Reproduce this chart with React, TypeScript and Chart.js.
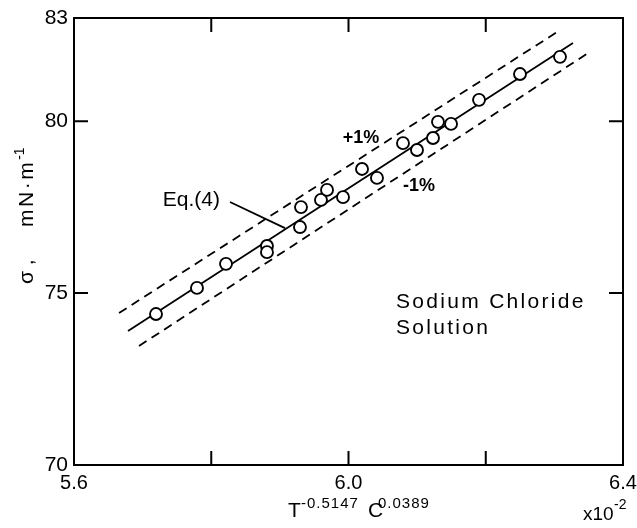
import React, { useEffect, useRef } from 'react';
import { Chart, registerables } from 'chart.js';

Chart.register(...registerables);

// measured points: x in units of 1e-2, y in mN/m
const pointX = [5.7195, 5.7792, 5.8215, 5.8812, 5.8812, 5.9293, 5.9308, 5.9599, 5.9687, 5.9920, 6.0197, 6.0415, 6.0794, 6.0998, 6.1231, 6.1304, 6.1494, 6.1902, 6.2499, 6.3082];
const pointY = [74.39, 75.15, 75.85, 76.37, 76.19, 76.92, 77.50, 77.71, 78.00, 77.79, 78.61, 78.35, 79.36, 79.16, 79.51, 79.98, 79.92, 80.62, 81.37, 81.87];

// Eq.(4) line and +/-1% bands (end points)
const eqX = [5.6787, 6.3271];
const eqY = [73.90, 82.27];
const upperX = [5.6656, 6.3038];
const upperY = [74.42, 82.59];
const lowerX = [5.6947, 6.349];
const lowerY = [73.46, 81.98];

// axes
const xMin = 5.6, xMax = 6.4;
const yMin = 70, yMax = 83;
const xTickLabels = [5.6, 6.0, 6.4];
const xTickMarks = [5.8, 6.0, 6.2];
const yTickLabels = [70, 75, 80, 83];
const yTickMarks = [75, 80];

// annotation anchors (data units)
const eqLabel = { text: 'Eq.(4)', x: 5.8127, y: 77.71 };
const eqLeaderX = [5.8273, 5.9075];
const eqLeaderY = [77.65, 76.89];
const plusLabel = { text: '+1%', x: 6.0182, y: 79.51 };
const minusLabel = { text: '-1%', x: 6.1027, y: 78.11 };
const noteLines = ['Sodium Chloride', 'Solution'];
const noteX = 6.0692;
const noteY = [74.74, 73.98];

const FONT = '"Liberation Sans", Arial, sans-serif';

const toPts = (xs: number[], ys: number[]) => xs.map((x, i) => ({ x, y: ys[i] }));

const annotPlugin = {
  id: 'annot',
  afterDraw(chart: any) {
    const { ctx, chartArea: a, scales } = chart;
    const xs = scales.x;
    const ys = scales.y;
    const px = (v: number) => xs.getPixelForValue(v);
    const py = (v: number) => ys.getPixelForValue(v);
    ctx.save();
    ctx.strokeStyle = '#000';
    ctx.fillStyle = '#000';
    ctx.lineWidth = 2;
    ctx.setLineDash([]);
    ctx.strokeRect(a.left, a.top, a.right - a.left, a.bottom - a.top);
    const TL = 14;
    ctx.beginPath();
    xTickMarks.forEach((v) => {
      const p = px(v);
      ctx.moveTo(p, a.bottom); ctx.lineTo(p, a.bottom - TL);
      ctx.moveTo(p, a.top); ctx.lineTo(p, a.top + TL);
    });
    yTickMarks.forEach((v) => {
      const p = py(v);
      ctx.moveTo(a.left, p); ctx.lineTo(a.left + TL, p);
      ctx.moveTo(a.right, p); ctx.lineTo(a.right - TL, p);
    });
    ctx.stroke();

    // leader line
    ctx.lineWidth = 1.8;
    ctx.beginPath();
    ctx.moveTo(px(eqLeaderX[0]), py(eqLeaderY[0]));
    ctx.lineTo(px(eqLeaderX[1]), py(eqLeaderY[1]));
    ctx.stroke();

    // labels
    ctx.textBaseline = 'middle';
    ctx.font = `21px ${FONT}`;
    ctx.textAlign = 'right';
    ctx.fillText(eqLabel.text, px(eqLabel.x), py(eqLabel.y));
    ctx.textAlign = 'center';
    ctx.font = `bold 18px ${FONT}`;
    ctx.fillText(plusLabel.text, px(plusLabel.x), py(plusLabel.y));
    ctx.fillText(minusLabel.text, px(minusLabel.x), py(minusLabel.y));

    ctx.textAlign = 'left';
    ctx.font = `21px ${FONT}`;
    (ctx as any).letterSpacing = '2.3px';
    noteLines.forEach((t, i) => ctx.fillText(t, px(noteX), py(noteY[i])));
    (ctx as any).letterSpacing = '0px';

    // x axis title: T^-0.5147 C^0.0389
    ctx.textBaseline = 'alphabetic';
    const tx = a.left + 214;
    const base = a.bottom + 52;
    ctx.font = `21px ${FONT}`;
    ctx.fillText('T', tx, base);
    ctx.font = `15px ${FONT}`;
    (ctx as any).letterSpacing = '1px';
    ctx.fillText('-0.5147', tx + 13, base - 9);
    (ctx as any).letterSpacing = '0px';
    ctx.font = `21px ${FONT}`;
    ctx.fillText('C', tx + 80, base);
    ctx.font = `15px ${FONT}`;
    (ctx as any).letterSpacing = '1px';
    ctx.fillText('0.0389', tx + 90, base - 9);
    (ctx as any).letterSpacing = '0px';

    // x10^-2
    ctx.font = `19px ${FONT}`;
    ctx.fillText('x10', a.right - 40, base + 3);
    ctx.font = `14px ${FONT}`;
    ctx.fillText('-2', a.right - 9, base - 8);

    // y axis title (rotated)
    ctx.translate(a.left - 47, a.top + 266);
    ctx.rotate(-Math.PI / 2);
    ctx.textBaseline = 'middle';
    ctx.font = `21px ${FONT}`;
    ctx.fillText('σ ,', 0, 0);
    (ctx as any).letterSpacing = '2.5px';
    ctx.fillText('mN·m', 57, 0);
    const w = ctx.measureText('mN·m').width;
    (ctx as any).letterSpacing = '0px';
    ctx.font = `14px ${FONT}`;
    ctx.fillText('-1', 57 + w, -7);
    ctx.restore();
  },
};

export default function App() {
  const ref = useRef<HTMLCanvasElement | null>(null);
  useEffect(() => {
    if (!ref.current) return;
    const chart = new Chart(ref.current, {
      type: 'scatter',
      data: {
        datasets: [
          {
            data: toPts(pointX, pointY),
            pointRadius: 6,
            pointBorderWidth: 1.9,
            pointBackgroundColor: '#fff',
            pointBorderColor: '#000',
            showLine: false,
            order: 0,
          },
          {
            data: toPts(eqX, eqY),
            showLine: true,
            pointRadius: 0,
            borderColor: '#000',
            borderWidth: 1.8,
            order: 1,
          },
          {
            data: toPts(upperX, upperY),
            showLine: true,
            pointRadius: 0,
            borderColor: '#000',
            borderWidth: 1.8,
            borderDash: [9, 6],
            order: 1,
          },
          {
            data: toPts(lowerX, lowerY),
            showLine: true,
            pointRadius: 0,
            borderColor: '#000',
            borderWidth: 1.8,
            borderDash: [9, 6],
            order: 1,
          },
        ],
      } as any,
      options: {
        animation: false,
        responsive: true,
        maintainAspectRatio: false,
        layout: { padding: { top: 18, right: 14, left: 0, bottom: 0 }, autoPadding: false } as any,
        plugins: { legend: { display: false }, tooltip: { enabled: false } },
        scales: {
          x: {
            type: 'linear',
            min: xMin,
            max: xMax,
            grid: { display: false, drawTicks: false },
            border: { display: false },
            afterBuildTicks: (s: any) => { s.ticks = xTickLabels.map((v) => ({ value: v })); },
            afterFit: (s: any) => { s.height = 63; s.paddingLeft = 0; s.paddingRight = 0; },
            ticks: {
              color: '#000',
              padding: 6,
              maxRotation: 0,
              font: { family: FONT, size: 20 },
              callback: (v: any) => Number(v).toFixed(1),
            },
          },
          y: {
            type: 'linear',
            min: yMin,
            max: yMax,
            grid: { display: false, drawTicks: false },
            border: { display: false },
            afterBuildTicks: (s: any) => { s.ticks = yTickLabels.map((v) => ({ value: v })); },
            afterFit: (s: any) => { s.width = 74; s.paddingTop = 0; s.paddingBottom = 0; },
            ticks: {
              color: '#000',
              padding: 6,
              font: { family: FONT, size: 21 },
              callback: (v: any) => String(v),
            },
          },
        },
      } as any,
      plugins: [annotPlugin],
    });
    return () => chart.destroy();
  }, []);
  return (
    <div style={{ position: 'fixed', left: 0, top: 0, width: 637, height: 528, background: '#fff' }}>
      <canvas ref={ref} />
    </div>
  );
}
